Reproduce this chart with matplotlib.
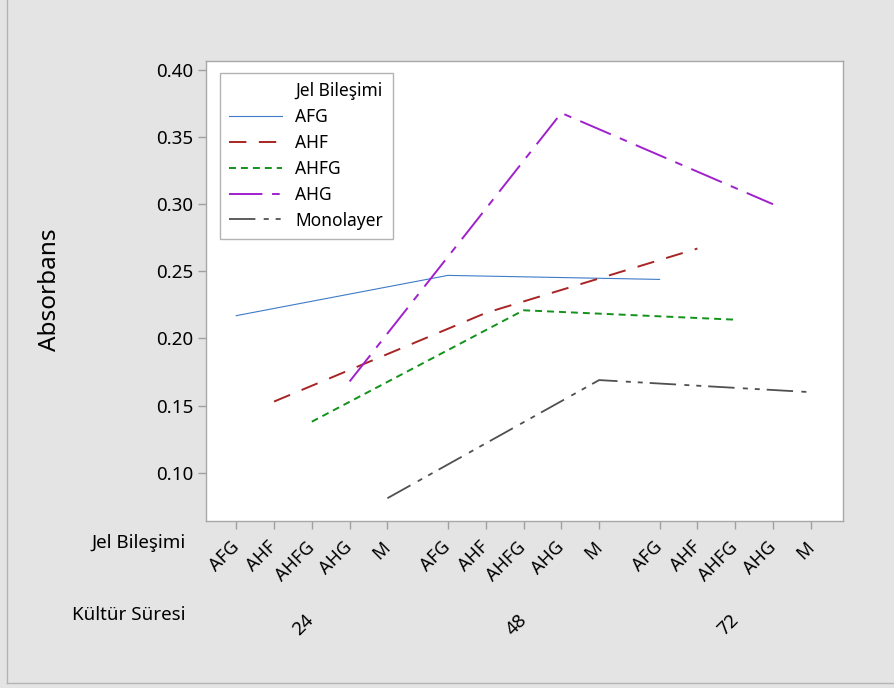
import matplotlib
matplotlib.use('Agg')
import matplotlib.pyplot as plt
from matplotlib.lines import Line2D

plt.rcParams['font.family'] = ['Noto Sans', 'DejaVu Sans']
plt.rcParams['lines.scale_dashes'] = False

# data
times = ['24', '48', '72']
compositions = ['AFG', 'AHF', 'AHFG', 'AHG', 'M']
series_names = ['AFG', 'AHF', 'AHFG', 'AHG', 'Monolayer']
afg = [0.217, 0.247, 0.244]
ahf = [0.153, 0.219, 0.267]
ahfg = [0.138, 0.221, 0.214]
ahg = [0.168, 0.368, 0.300]
monolayer = [0.081, 0.169, 0.160]
yticks = [0.10, 0.15, 0.20, 0.25, 0.30, 0.35, 0.40]

colors = ['#3f7bc6', '#a82424', '#12921a', '#a020cc', '#505050']
dashes = [None, (12.5, 9), (5, 3.6), (24, 7, 5.5, 7), (19, 6, 3.6, 5, 3.6, 5)]
widths = [0.8, 1.4, 1.4, 1.4, 1.3]

group_step = 5.6  # categorical spacing incl. gap between time groups
positions = []
for g in range(len(times)):
    for c in range(len(compositions)):
        positions.append(g * group_step + c)

fig = plt.figure(figsize=(8.94, 6.88), dpi=100)
fig.patch.set_facecolor('#e4e4e4')
ax = fig.add_axes([0.2304, 0.2427, 0.7125, 0.6686])
ax.set_facecolor('white')

all_series = [afg, ahf, ahfg, ahg, monolayer]
for i, vals in enumerate(all_series):
    xs = [g * group_step + i for g in range(len(times))]
    line, = ax.plot(xs, vals, color=colors[i], lw=widths[i], label=series_names[i])
    if dashes[i] is not None:
        line.set_dashes(dashes[i])

ax.set_xlim(-0.8, 16.05)
ax.set_ylim(0.064, 0.4067)
ax.set_yticks(yticks)
ax.set_yticklabels([f'{v:.2f}' for v in yticks], fontsize=13.5)
ax.set_xticks(positions)
ax.set_xticklabels(compositions * len(times), rotation=45, ha='right', va='center',
                   rotation_mode='anchor', fontsize=13)
ax.tick_params(axis='both', color='#a0a0a0', length=6, width=1, direction='out')
ax.tick_params(axis='x', pad=11)
ax.tick_params(axis='y', pad=3)
for s in ax.spines.values():
    s.set_color('#a8a8a8')
    s.set_linewidth(1)

leg = ax.legend(title='Jel Bileşimi', loc='upper left', bbox_to_anchor=(0.008, 0.993),
                fontsize=12.5, title_fontsize=12.5, frameon=True, fancybox=False,
                edgecolor='#a0a0a0', handlelength=3.05, handletextpad=0.75,
                labelspacing=0.45, borderpad=0.55, alignment='right')
leg.get_frame().set_linewidth(1)

W, H = 894, 688
fig.text(50 / W, 1 - 290 / H, 'Absorbans', rotation=90, ha='center', va='center', fontsize=17.5)
fig.text(186 / W, 1 - 543 / H, 'Jel Bileşimi', ha='right', va='center', fontsize=13.5)
fig.text(186 / W, 1 - 615 / H, 'Kültür Süresi', ha='right', va='center', fontsize=13.5)
group_x = [303, 517, 728]
for gx, t in zip(group_x, times):
    fig.text(gx / W, 1 - 625 / H, t, rotation=45, ha='center', va='center', fontsize=13.5)

# thin frame at the left and bottom edges
fig.add_artist(Line2D([7 / W, 7 / W], [1 - 683 / H, 1.0], transform=fig.transFigure,
                      color='#b4b4b4', lw=1))
fig.add_artist(Line2D([7 / W, 1.0], [1 - 683 / H, 1 - 683 / H], transform=fig.transFigure,
                      color='#b4b4b4', lw=1))

fig.savefig('out.png', dpi=100, facecolor=fig.get_facecolor())
